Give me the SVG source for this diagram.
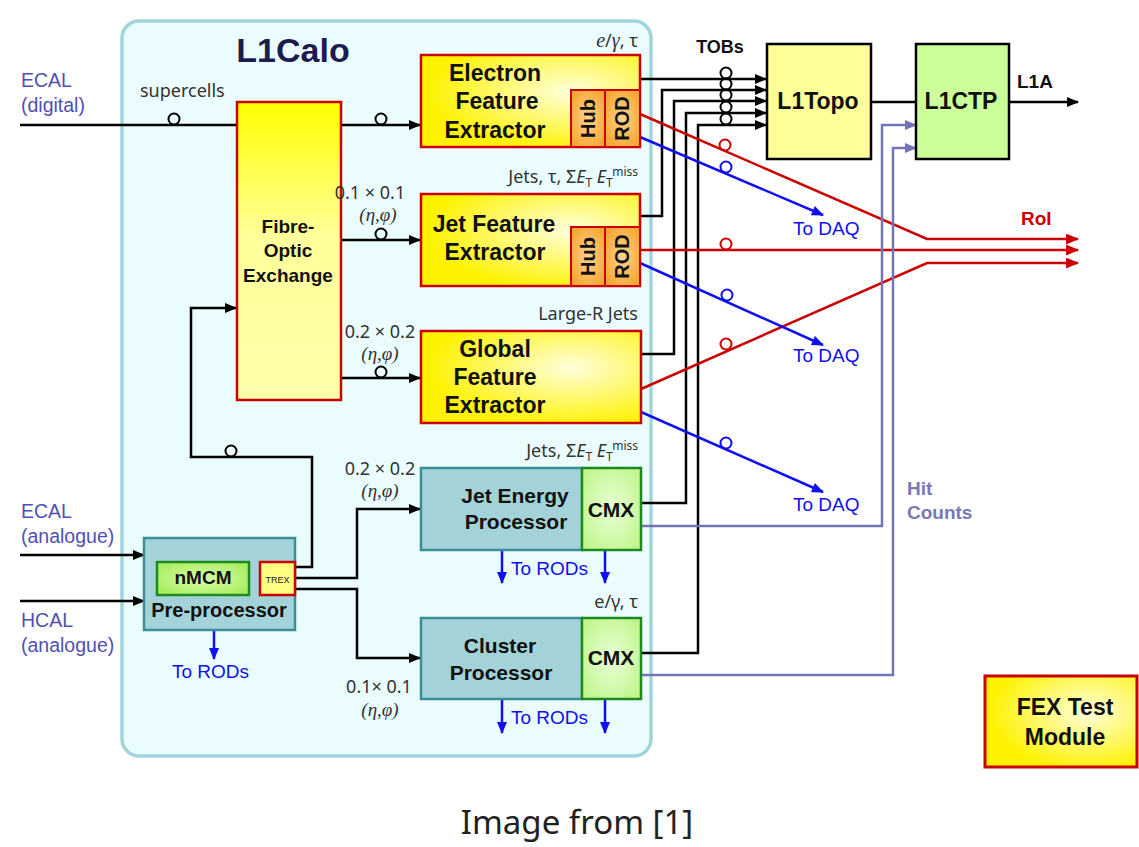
<svg xmlns="http://www.w3.org/2000/svg" width="1139" height="847" viewBox="0 0 1139 847">
<defs>
<linearGradient id="gFibre" x1="0" y1="0" x2="0" y2="1"><stop offset="0" stop-color="#ffff00"/><stop offset="0.45" stop-color="#ffff9a"/><stop offset="1" stop-color="#ffffaa"/></linearGradient>
<radialGradient id="gFex" cx="0.68" cy="0.4" r="0.65"><stop offset="0" stop-color="#ffffdc"/><stop offset="1" stop-color="#fff200"/></radialGradient>
<radialGradient id="gOr" cx="0.5" cy="0.5" r="0.6"><stop offset="0" stop-color="#fdd690"/><stop offset="1" stop-color="#f5a530"/></radialGradient>
<radialGradient id="gCmx" cx="0.5" cy="0.5" r="0.6"><stop offset="0" stop-color="#eaffd6"/><stop offset="1" stop-color="#c2f590"/></radialGradient>
<radialGradient id="gNm" cx="0.5" cy="0.5" r="0.6"><stop offset="0" stop-color="#d8ffa8"/><stop offset="1" stop-color="#a8ec60"/></radialGradient>
<marker id="ak" viewBox="0 0 12 10" refX="11" refY="5" markerWidth="12" markerHeight="10" markerUnits="userSpaceOnUse" orient="auto"><path d="M0,0 L12,5 L0,10 z" fill="#000"/></marker>
<marker id="ar" viewBox="0 0 12 10" refX="11" refY="5" markerWidth="13" markerHeight="11" markerUnits="userSpaceOnUse" orient="auto"><path d="M0,0 L12,5 L0,10 z" fill="#cc0000"/></marker>
<marker id="ab" viewBox="0 0 12 10" refX="11" refY="5" markerWidth="14" markerHeight="10" markerUnits="userSpaceOnUse" orient="auto"><path d="M0,0 L12,5 L0,10 z" fill="#1010ee"/></marker>
<marker id="ap" viewBox="0 0 12 10" refX="11" refY="5" markerWidth="13" markerHeight="10" markerUnits="userSpaceOnUse" orient="auto"><path d="M0,0 L12,5 L0,10 z" fill="#7474b4"/></marker>
</defs>
<style>
.blk{fill:none;stroke:#000;stroke-width:2.5}
.red{fill:none;stroke:#cc0000;stroke-width:2.5}
.blu{fill:none;stroke:#1010ee;stroke-width:2.5}
.pur{fill:none;stroke:#7474b4;stroke-width:2.5}
.rk{fill:none;stroke:#000;stroke-width:2}
.rr{fill:none;stroke:#cc0000;stroke-width:2}
.rb{fill:none;stroke:#1010ee;stroke-width:2}
.fex{fill:url(#gFex);stroke:#cc0000;stroke-width:2.5}
.or{fill:url(#gOr);stroke:#cc0000;stroke-width:2}
.teal{fill:#a3d3d8;stroke:#3b8e96;stroke-width:2.5}
.cmx{fill:url(#gCmx);stroke:#1e8a1e;stroke-width:2.5}
.bt{font-family:"Liberation Sans",Arial,sans-serif;font-weight:bold;fill:#111;text-anchor:middle}
.sm{font-family:"Noto Sans","DejaVu Sans",sans-serif;font-size:18px;fill:#333}
.mth{font-family:"Liberation Serif","Times New Roman",serif;font-size:19px;fill:#333;font-style:italic}
.ext{font-family:"Liberation Sans",Arial,sans-serif;font-size:19.5px;fill:#5050b4}
.bl{font-family:"Liberation Sans",Arial,sans-serif;font-size:19px;fill:#1010ee}
</style>
<rect width="1139" height="847" fill="#fff"/>

<g id="l1calo">
<rect x="122" y="21" width="529" height="735" rx="17" fill="#eafcfd" stroke="#a2d5db" stroke-width="3.5"/>
<text x="293" y="62" class="bt" font-size="34" style="fill:#1c1c4f">L1Calo</text>
</g>

<g id="connectors">
<path class="blk" d="M20,125 H236"/>
<circle class="rk" cx="174" cy="119" r="5.5"/>
<path class="blk" d="M341,125 H420" marker-end="url(#ak)"/>
<circle class="rk" cx="381" cy="119" r="5.5"/>
<path class="blk" d="M341,240 H420" marker-end="url(#ak)"/>
<circle class="rk" cx="381" cy="234" r="5.5"/>
<path class="blk" d="M341,378 H420" marker-end="url(#ak)"/>
<circle class="rk" cx="381" cy="372" r="5.5"/>
<path class="blk" d="M640,79 H766" marker-end="url(#ak)"/>
<path class="blk" d="M640,216 H662 V90 H766" marker-end="url(#ak)"/>
<path class="blk" d="M641,354 H674 V101 H766" marker-end="url(#ak)"/>
<path class="blk" d="M641,503 H686 V113 H766" marker-end="url(#ak)"/>
<path class="blk" d="M641,653 H698 V125 H766" marker-end="url(#ak)"/>
<circle class="rk" cx="726" cy="73" r="5.5"/>
<circle class="rk" cx="726" cy="84" r="5.5"/>
<circle class="rk" cx="726" cy="95" r="5.5"/>
<circle class="rk" cx="726" cy="107" r="5.5"/>
<circle class="rk" cx="726" cy="119" r="5.5"/>
<path class="blk" d="M871,102 H916"/>
<path class="blk" d="M1009,102 H1078" marker-end="url(#ak)"/>
<path class="blk" d="M20,555 H144" marker-end="url(#ak)"/>
<path class="blk" d="M20,601 H144" marker-end="url(#ak)"/>
<path class="blk" d="M295,567 H312 V457 H191 V308 H236" marker-end="url(#ak)"/>
<circle class="rk" cx="231" cy="451" r="5.5"/>
<path class="blk" d="M295,578 H357 V509 H420" marker-end="url(#ak)"/>
<path class="blk" d="M295,589 H357 V658 H420" marker-end="url(#ak)"/>

<path class="red" d="M640,114 L927,239 H1078" marker-end="url(#ar)"/>
<circle class="rr" cx="725" cy="145" r="5.5"/>
<path class="red" d="M640,250 H1078" marker-end="url(#ar)"/>
<circle class="rr" cx="726" cy="244" r="5.5"/>
<path class="red" d="M641,389 L927,263 H1078" marker-end="url(#ar)"/>
<circle class="rr" cx="726" cy="344" r="5.5"/>

<path class="blu" d="M640,137 L823,215" marker-end="url(#ab)"/>
<circle class="rb" cx="726" cy="167" r="5.5"/>
<path class="blu" d="M640,263 L823,345" marker-end="url(#ab)"/>
<circle class="rb" cx="727" cy="295" r="5.5"/>
<path class="blu" d="M641,412 L823,492" marker-end="url(#ab)"/>
<circle class="rb" cx="726" cy="443" r="5.5"/>

<path class="blu" d="M214,630 V659" marker-end="url(#ab)"/>
<path class="blu" d="M502,550 V583" marker-end="url(#ab)"/>
<path class="blu" d="M605,550 V583" marker-end="url(#ab)"/>
<path class="blu" d="M502,699 V733" marker-end="url(#ab)"/>
<path class="blu" d="M605,699 V733" marker-end="url(#ab)"/>

<path class="pur" d="M641,526 H882 V125 H916" marker-end="url(#ap)"/>
<path class="pur" d="M641,675 H893 V148 H916" marker-end="url(#ap)"/>
</g>

<g id="fibre">
<rect x="237" y="102" width="104" height="298" fill="url(#gFibre)" stroke="#cc0000" stroke-width="2.5"/>
<text class="bt" font-size="19"><tspan x="288" y="233">Fibre-</tspan><tspan x="288" y="257">Optic</tspan><tspan x="288" y="282">Exchange</tspan></text>
</g>

<g id="efex">
<rect class="fex" x="421" y="55" width="219" height="92"/>
<rect class="or" x="571" y="90" width="34" height="57"/>
<rect class="or" x="605" y="90" width="35" height="57"/>
<text class="bt" font-size="23"><tspan x="495" y="81">Electron</tspan><tspan x="497" y="109">Feature</tspan><tspan x="495" y="138">Extractor</tspan></text>
<text class="bt" font-size="20" transform="translate(595,118.5) rotate(-90)">Hub</text>
<text class="bt" font-size="20" transform="translate(629,118.5) rotate(-90)">ROD</text>
</g>

<g id="jfex">
<rect class="fex" x="421" y="194" width="219" height="92"/>
<rect class="or" x="571" y="227" width="34" height="59"/>
<rect class="or" x="605" y="227" width="35" height="59"/>
<text class="bt" font-size="23"><tspan x="494" y="232">Jet Feature</tspan><tspan x="495" y="260">Extractor</tspan></text>
<text class="bt" font-size="20" transform="translate(595,256.5) rotate(-90)">Hub</text>
<text class="bt" font-size="20" transform="translate(629,256.5) rotate(-90)">ROD</text>
</g>

<g id="gfex">
<rect class="fex" x="421" y="331" width="220" height="92"/>
<text class="bt" font-size="23"><tspan x="495" y="357">Global</tspan><tspan x="495" y="385">Feature</tspan><tspan x="495" y="413">Extractor</tspan></text>
</g>

<g id="jep">
<rect class="teal" x="421" y="468" width="161" height="82"/>
<rect class="cmx" x="582" y="468" width="59" height="82"/>
<text class="bt" font-size="21"><tspan x="515" y="503">Jet Energy</tspan><tspan x="516" y="529">Processor</tspan></text>
<text class="bt" font-size="21" x="611" y="517">CMX</text>
</g>

<g id="cp">
<rect class="teal" x="421" y="618" width="161" height="81"/>
<rect class="cmx" x="582" y="618" width="59" height="81"/>
<text class="bt" font-size="21"><tspan x="500" y="653">Cluster</tspan><tspan x="501" y="680">Processor</tspan></text>
<text class="bt" font-size="21" x="611" y="665">CMX</text>
</g>

<g id="preproc">
<rect class="teal" x="144" y="538" width="151" height="92"/>
<rect x="157" y="562" width="92" height="33" fill="url(#gNm)" stroke="#1e8a1e" stroke-width="2.5"/>
<rect x="260" y="562" width="35" height="33" fill="#ffff80" stroke="#cc0000" stroke-width="2.5"/>
<text class="bt" font-size="19" x="203" y="584">nMCM</text>
<text x="277.5" y="583" font-family="Liberation Sans,Arial,sans-serif" font-size="9" fill="#222" text-anchor="middle">TREX</text>
<text class="bt" font-size="20" x="219" y="617">Pre-processor</text>
</g>

<g id="l1topo">
<rect x="767" y="44" width="104" height="115" fill="#ffff99" stroke="#000" stroke-width="2.5"/>
<text class="bt" font-size="23" x="818" y="109">L1Topo</text>
</g>

<g id="l1ctp">
<rect x="916" y="44" width="93" height="115" fill="#ccff99" stroke="#000" stroke-width="2.5"/>
<text class="bt" font-size="23" x="961" y="109">L1CTP</text>
</g>

<g id="fextest">
<rect x="985" y="676" width="152" height="91" fill="url(#gFex)" stroke="#cc0000" stroke-width="3"/>
<text class="bt" font-size="23"><tspan x="1065" y="715">FEX Test</tspan><tspan x="1065" y="745">Module</tspan></text>
</g>

<g id="labels">
<text class="ext"><tspan x="21" y="87">ECAL</tspan><tspan x="21" y="112">(digital)</tspan></text>
<text class="ext"><tspan x="21" y="518">ECAL</tspan><tspan x="21" y="543">(analogue)</tspan></text>
<text class="ext"><tspan x="21" y="627">HCAL</tspan><tspan x="21" y="652">(analogue)</tspan></text>
<text class="sm" x="140" y="97">supercells</text>
<text class="sm" x="370" y="199" text-anchor="middle">0.1 × 0.1</text>
<text class="mth" x="378" y="221" text-anchor="middle">(η,φ)</text>
<text class="sm" x="380" y="338" text-anchor="middle">0.2 × 0.2</text>
<text class="mth" x="380" y="360" text-anchor="middle">(η,φ)</text>
<text class="sm" x="380" y="475" text-anchor="middle">0.2 × 0.2</text>
<text class="mth" x="380" y="497" text-anchor="middle">(η,φ)</text>
<text class="sm" x="379" y="693" text-anchor="middle">0.1× 0.1</text>
<text class="mth" x="380" y="716" text-anchor="middle">(η,φ)</text>
<text class="sm" x="638" y="47" text-anchor="end"><tspan font-family="Liberation Serif,serif" font-style="italic" font-size="20">e</tspan>/<tspan font-family="Liberation Serif,serif" font-style="italic" font-size="20">γ</tspan>, τ</text>
<text class="sm" x="638" y="183" text-anchor="end">Jets, τ, Σ<tspan font-style="italic">E</tspan><tspan font-size="12" dy="4">T</tspan><tspan dy="-4"> </tspan><tspan font-style="italic">E</tspan><tspan font-size="12" dy="4">T</tspan><tspan font-size="12" dy="-11">miss</tspan></text>
<text class="sm" x="638" y="320" text-anchor="end">Large-R Jets</text>
<text class="sm" x="638" y="457" text-anchor="end">Jets, Σ<tspan font-style="italic">E</tspan><tspan font-size="12" dy="4">T</tspan><tspan dy="-4"> </tspan><tspan font-style="italic">E</tspan><tspan font-size="12" dy="4">T</tspan><tspan font-size="12" dy="-11">miss</tspan></text>
<text class="sm" x="638" y="608" text-anchor="end">e/γ, τ</text>
<text class="bl" x="172" y="678">To RODs</text>
<text class="bl" x="511" y="575">To RODs</text>
<text class="bl" x="511" y="724">To RODs</text>
<text class="bl" x="793" y="235">To DAQ</text>
<text class="bl" x="793" y="362">To DAQ</text>
<text class="bl" x="793" y="511">To DAQ</text>
<text class="bt" font-size="18" x="720" y="53">TOBs</text>
<text class="bt" font-size="19" x="1017" y="88" style="text-anchor:start">L1A</text>
<text class="bt" font-size="19" x="1021" y="225" style="text-anchor:start;fill:#cc0000">RoI</text>
<text class="bt" font-size="19" style="text-anchor:start;fill:#7878b4"><tspan x="907" y="495">Hit</tspan><tspan x="907" y="519">Counts</tspan></text>
<text x="577" y="834" font-family="Noto Sans,DejaVu Sans,sans-serif" font-size="33" fill="#222" text-anchor="middle">Image from [1]</text>
</g>
</svg>
